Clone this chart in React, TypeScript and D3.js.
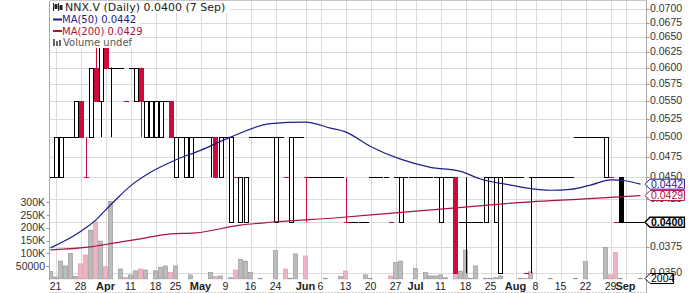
import React from "react";
import * as d3 from "d3";

// trading-day index of first entry (Mar 18); index 0 = Mar 21, index 117 = Sep 7
const FIRST_DAY = -1;

const opens = [
  0.045, 0.045, 0.045, 0.05, 0.05, 0.05, 0.055, 0.045, 0.05, 0.06,
  0.055, 0.065, 0.06, 0.06, 0.06, 0.055, 0.06, 0.055, 0.06, 0.05,
  0.05, 0.05, 0.05, 0.055, 0.055, 0.045, 0.05, 0.045, 0.045, 0.05,
  0.05, 0.05, 0.05, 0.05, 0.045, 0.05, 0.04, 0.045, 0.04, 0.04,
  0.05, 0.05, 0.05, 0.05, 0.05, 0.04, 0.05, 0.045, 0.04, 0.05,
  0.05, 0.045, 0.045, 0.045, 0.045, 0.045, 0.045, 0.045, 0.045, 0.04,
  0.04, 0.04, 0.04, 0.04, 0.045, 0.045, 0.045, 0.045, 0.04, 0.045,
  0.04, 0.045, 0.045, 0.045, 0.045, 0.045, 0.045, 0.045, 0.04, 0.045,
  0.045, 0.045, 0.04, 0.04, 0.04, 0.04, 0.04, 0.04, 0.045, 0.04,
  0.035, 0.045, 0.045, 0.045, 0.045, 0.035, 0.045, 0.045, 0.045, 0.045,
  0.045, 0.045, 0.045, 0.045, 0.045, 0.05, 0.05, 0.05, 0.05, 0.05,
  0.05, 0.045, 0.045, 0.04, 0.045, 0.04, 0.04, 0.04, 0.04,
];
const highs = [
  0.045, 0.05, 0.05, 0.05, 0.05, 0.055, 0.055, 0.05, 0.06, 0.065,
  0.065, 0.065, 0.06, 0.06, 0.06, 0.055, 0.06, 0.06, 0.06, 0.055,
  0.055, 0.055, 0.055, 0.055, 0.055, 0.05, 0.05, 0.05, 0.05, 0.05,
  0.05, 0.05, 0.05, 0.05, 0.05, 0.05, 0.05, 0.045, 0.045, 0.045,
  0.05, 0.05, 0.05, 0.05, 0.05, 0.05, 0.05, 0.045, 0.05, 0.05,
  0.05, 0.045, 0.045, 0.045, 0.045, 0.045, 0.045, 0.045, 0.045, 0.045,
  0.04, 0.04, 0.04, 0.04, 0.045, 0.045, 0.045, 0.045, 0.04, 0.045,
  0.045, 0.045, 0.045, 0.045, 0.045, 0.045, 0.045, 0.045, 0.045, 0.045,
  0.045, 0.045, 0.04, 0.045, 0.04, 0.04, 0.04, 0.045, 0.045, 0.045,
  0.045, 0.045, 0.045, 0.045, 0.045, 0.035, 0.045, 0.045, 0.045, 0.045,
  0.045, 0.045, 0.045, 0.045, 0.045, 0.05, 0.05, 0.05, 0.05, 0.05,
  0.05, 0.05, 0.045, 0.04, 0.045, 0.04, 0.04, 0.04, 0.04,
];
const lows = [
  0.045, 0.045, 0.045, 0.05, 0.05, 0.05, 0.05, 0.045, 0.05, 0.055,
  0.05, 0.06, 0.05, 0.06, 0.06, 0.055, 0.06, 0.055, 0.05, 0.05,
  0.05, 0.05, 0.05, 0.055, 0.05, 0.045, 0.05, 0.045, 0.045, 0.05,
  0.05, 0.05, 0.045, 0.045, 0.045, 0.05, 0.04, 0.045, 0.04, 0.04,
  0.05, 0.05, 0.05, 0.05, 0.05, 0.04, 0.05, 0.045, 0.04, 0.05,
  0.05, 0.04, 0.045, 0.045, 0.045, 0.045, 0.045, 0.045, 0.045, 0.04,
  0.04, 0.04, 0.04, 0.04, 0.045, 0.045, 0.045, 0.045, 0.04, 0.045,
  0.04, 0.045, 0.045, 0.045, 0.045, 0.045, 0.045, 0.045, 0.04, 0.045,
  0.045, 0.035, 0.04, 0.035, 0.04, 0.04, 0.04, 0.04, 0.045, 0.04,
  0.035, 0.045, 0.045, 0.045, 0.045, 0.035, 0.035, 0.045, 0.045, 0.045,
  0.045, 0.045, 0.045, 0.045, 0.045, 0.05, 0.05, 0.05, 0.05, 0.05,
  0.05, 0.045, 0.045, 0.04, 0.04, 0.04, 0.04, 0.04, 0.04,
];
const closes = [
  0.045, 0.05, 0.05, 0.05, 0.05, 0.055, 0.05, 0.045, 0.06, 0.055,
  0.065, 0.06, 0.06, 0.06, 0.06, 0.055, 0.06, 0.06, 0.055, 0.055,
  0.055, 0.055, 0.055, 0.055, 0.05, 0.05, 0.05, 0.05, 0.05, 0.05,
  0.05, 0.05, 0.05, 0.045, 0.05, 0.05, 0.05, 0.045, 0.045, 0.045,
  0.05, 0.05, 0.05, 0.05, 0.05, 0.05, 0.05, 0.045, 0.05, 0.05,
  0.05, 0.045, 0.045, 0.045, 0.045, 0.045, 0.045, 0.045, 0.045, 0.04,
  0.04, 0.04, 0.04, 0.04, 0.045, 0.045, 0.045, 0.045, 0.04, 0.045,
  0.045, 0.045, 0.045, 0.045, 0.045, 0.045, 0.045, 0.045, 0.045, 0.045,
  0.045, 0.035, 0.04, 0.04, 0.04, 0.04, 0.04, 0.045, 0.045, 0.045,
  0.045, 0.045, 0.045, 0.045, 0.045, 0.035, 0.045, 0.045, 0.045, 0.045,
  0.045, 0.045, 0.045, 0.045, 0.045, 0.05, 0.05, 0.05, 0.05, 0.05,
  0.05, 0.05, 0.045, 0.04, 0.04, 0.04, 0.04, 0.04, 0.04,
];
const volumes = [
  30000, 8000, 70000, 51000, 100000, 9000, 59000, 94000, 191000, 224000,
  148000, 48000, 302000, 0, 39000, 6000, 16000, 32000, 39000, 35000,
  0, 32000, 46000, 51000, 25000, 51000, 0, 0, 16000, 0,
  0, 0, 25000, 10000, 12000, 0, 5000, 35000, 77000, 70000,
  25000, 0, 3000, 0, 0, 111000, 0, 39000, 3000, 98000,
  0, 90000, 0, 0, 0, 3000, 0, 0, 9000, 31000,
  0, 0, 0, 16000, 3000, 0, 0, 0, 12000, 64000,
  70000, 0, 0, 42000, 0, 25000, 12000, 12000, 16000, 5000,
  0, 28000, 31000, 113000, 3000, 51000, 0, 3000, 3000, 5000,
  12000, 0, 0, 0, 2000, 3000, 28000, 0, 0, 0,
  3000, 0, 0, 0, 0, 2000, 0, 68000, 0, 0,
  0, 124000, 16000, 104000, 3000, 0, 0, 0, 2004,
];

const ma50Days = [-1, 4, 6, 8, 10, 12, 15, 19, 24, 29, 35, 43, 50, 55, 58, 63, 69, 75, 81, 85, 91, 95, 99, 103, 107, 111, 114, 117];
const ma50Vals = [0.0374, 0.0387, 0.0394, 0.0402, 0.0413, 0.0424, 0.044, 0.0456, 0.0471, 0.0483, 0.05, 0.0518, 0.052, 0.0512, 0.0507, 0.0488, 0.0472, 0.0462, 0.0457, 0.0448, 0.0441, 0.0437, 0.0435, 0.0436, 0.0441, 0.0447, 0.0446, 0.0442];
const ma200Days = [-1, 7, 12, 17, 23, 28, 37, 43, 57, 68, 77, 90, 95, 105, 117];
const ma200Vals = [0.0372, 0.0375, 0.0379, 0.0383, 0.0388, 0.0389, 0.0397, 0.04, 0.0405, 0.041, 0.0414, 0.042, 0.0422, 0.0425, 0.0429];

const xTickDays = [0, 5, 10, 15, 20, 24, 29, 34, 39, 44, 50, 53, 58, 63, 68, 72, 77, 82, 87, 92, 96, 101, 106, 111, 114];
const xTickLabels = ["21", "28", "Apr", "11", "18", "25", "May", "9", "16", "24", "Jun", "6", "13", "20", "27", "Jul", "11", "18", "25", "Aug", "8", "15", "22", "29", "Sep"];
const priceTicks = [0.035, 0.0375, 0.04, 0.0425, 0.045, 0.0475, 0.05, 0.0525, 0.055, 0.0575, 0.06, 0.0625, 0.065, 0.0675, 0.07];
const volTicks = [50000, 100000, 150000, 200000, 250000, 300000];

const SYMBOL = "NNX.V";
const LAST_DATE = "7 Sep";

const RED = "#cc0a3c";
const BLACK = "#000";
const NAVY = "#1c1c8a";
const MA200C = "#b0103c";
const AXIS_FONT = "'Liberation Sans', Arial, sans-serif";
const LEG_FONT = "'DejaVu Sans', Verdana, sans-serif";

const L = 49.5, R = 646.5, T = 0.5, B = 279.5;

export default function App() {
  const x = d3.scaleLinear().domain([-1, 117]).range([50.5, 640.5]);
  const y = d3.scaleLog().domain([0.035, 0.07]).range([273.2, 8.8]);
  const yv = d3.scaleLinear().domain([0, 300000]).range([279, 202.2]);
  const fmt4 = d3.format(".4f");

  const days = closes.map((c, k) => ({
    i: k + FIRST_DAY,
    o: opens[k], h: highs[k], l: lows[k], c,
    v: volumes[k],
    prev: k > 0 ? closes[k - 1] : c,
  }));

  const line = d3.line<[number, number]>().x((d) => x(d[0])).y((d) => y(d[1])).curve(d3.curveMonotoneX);
  const ma50Path = line(ma50Days.map((d, k) => [d, ma50Vals[k]])) || "";
  const ma200Path = line(ma200Days.map((d, k) => [d, ma200Vals[k]])) || "";

  const lastClose = closes[closes.length - 1];
  const lastMa50 = ma50Vals[ma50Vals.length - 1];
  const lastMa200 = ma200Vals[ma200Vals.length - 1];
  const lastVol = volumes[volumes.length - 1];

  const markers = [
    { yy: y(lastMa50), text: fmt4(lastMa50), color: NAVY, bold: false },
    { yy: y(lastMa200), text: fmt4(lastMa200), color: MA200C, bold: false },
    { yy: y(lastClose), text: fmt4(lastClose), color: BLACK, bold: true },
    { yy: yv(lastVol), text: String(lastVol), color: BLACK, bold: false },
  ];

  return (
    <svg width={700} height={293} viewBox="0 0 700 293" style={{ display: "block", position: "absolute", left: 0, top: 0, background: "#fff" }}>
      <defs>
        <clipPath id="plotclip">
          <rect x={L} y={T} width={R - L} height={B - T} />
        </clipPath>
      </defs>
      <rect x={0} y={0} width={700} height={293} fill="#fff" />
      {/* grid */}
      <g stroke="#dadada" strokeWidth={1} shapeRendering="crispEdges">
        {priceTicks.map((p) => (
          <line key={"h" + p} x1={L} x2={R} y1={Math.round(y(p)) + 0.5} y2={Math.round(y(p)) + 0.5} />
        ))}
        {xTickDays.map((d) => (
          <line key={"v" + d} x1={Math.round(x(d)) + 0.5} x2={Math.round(x(d)) + 0.5} y1={T} y2={B} />
        ))}
      </g>
      <g clipPath="url(#plotclip)">
        {/* volume */}
        {days.map((d) =>
          d.v > 0 ? (
            <rect
              key={"vol" + d.i}
              x={x(d.i) - 2}
              y={yv(d.v)}
              width={4}
              height={Math.max(0.5, yv(0) - yv(d.v))}
              fill={d.c < d.prev ? "#eeb4c2" : "#bcbcbc"}
              stroke={d.c < d.prev ? "#d88ea2" : "#8e8e8e"}
              strokeWidth={0.6}
            />
          ) : null
        )}
        {/* candles */}
        {days.map((d) => {
          const col = d.c < d.prev ? RED : BLACK;
          const cx = Math.round(x(d.i)) + 0.5;
          const top = Math.max(d.o, d.c), bot = Math.min(d.o, d.c);
          const parts: React.ReactNode[] = [];
          if (d.h > top || d.l < bot) {
            parts.push(<line key="w" x1={cx} x2={cx} y1={y(d.h)} y2={y(d.l)} stroke={col} strokeWidth={1} />);
          }
          if (d.o === d.c) {
            parts.push(<line key="b" x1={cx - 2.5} x2={cx + 2.5} y1={Math.round(y(d.c)) + 0.5} y2={Math.round(y(d.c)) + 0.5} stroke={col} strokeWidth={1} shapeRendering="crispEdges" />);
          } else {
            parts.push(
              <rect key="b" x={cx - 2} y={Math.round(y(top)) + 0.5} width={4} height={Math.round(y(bot)) - Math.round(y(top))}
                fill={d.c < d.o ? col : "#fff"} stroke={col} strokeWidth={1} shapeRendering="crispEdges" />
            );
          }
          return <g key={"c" + d.i}>{parts}</g>;
        })}
        {/* moving averages */}
        <path d={ma200Path} fill="none" stroke={MA200C} strokeWidth={1.2} />
        <path d={ma50Path} fill="none" stroke={NAVY} strokeWidth={1.2} />
      </g>
      {/* frame */}
      <line x1={L} x2={L} y1={T} y2={B} stroke="#a8a8a8" shapeRendering="crispEdges" />
      <line x1={R} x2={R} y1={0} y2={293} stroke="#a8a8a8" shapeRendering="crispEdges" />
      <line x1={L} x2={R} y1={T} y2={T} stroke="#c8c8c8" shapeRendering="crispEdges" />
      <line x1={L} x2={R} y1={292.5} y2={292.5} stroke="#999" strokeDasharray="1,2" />
      {/* right axis */}
      <g fontFamily={AXIS_FONT} fontSize={10.5} fill="#333">
        {priceTicks.map((p) => (
          <g key={"pt" + p}>
            <line x1={R} x2={R + 3} y1={Math.round(y(p)) + 0.5} y2={Math.round(y(p)) + 0.5} stroke="#999" />
            <text x={650} y={y(p) + 3}>{fmt4(p)}</text>
          </g>
        ))}
      </g>
      {/* left volume axis */}
      <g fontFamily={AXIS_FONT} fontSize={10.5} fill="#333">
        {volTicks.map((v) => (
          <g key={"vt" + v}>
            <line x1={L - 3} x2={L} y1={Math.round(yv(v)) + 0.5} y2={Math.round(yv(v)) + 0.5} stroke="#999" />
            <text x={45} y={yv(v) + 3.5} textAnchor="end">{v >= 100000 ? v / 1000 + "K" : String(v)}</text>
          </g>
        ))}
      </g>
      {/* x axis labels */}
      <g fontFamily={AXIS_FONT} fontSize={10.5} fill="#222">
        {xTickDays.map((d, k) => {
          const lab = xTickLabels[k];
          const bold = isNaN(Number(lab));
          return (
            <text key={"xl" + k} x={x(d)} y={290} textAnchor="middle" fontWeight={bold ? "bold" : "normal"} fontSize={bold ? 11 : 10.5}>
              {lab}
            </text>
          );
        })}
      </g>
      {/* last-value markers */}
      {markers.map((m, k) => {
        const w = m.text.length * 5.4 + 2;
        const yy = m.yy;
        return (
          <g key={"mk" + k}>
            <path d={`M645,${yy} L650,${yy - 5} L${650 + w},${yy - 5} L${650 + w},${yy + 5} L650,${yy + 5} Z`}
              fill="#fff" stroke={m.color} strokeWidth={m.bold ? 1.4 : 1} />
            <text x={651} y={yy + 3.8} fontFamily={AXIS_FONT} fontSize={10.5} fill={m.color} fontWeight={m.bold ? "bold" : "normal"}>{m.text}</text>
          </g>
        );
      })}
      {/* legend */}
      <g>
        <rect x={50} y={1} width={180} height={12} fill="#fff" />
        <rect x={50} y={13} width={90} height={35} fill="#fff" />
        <g stroke="#222" strokeWidth={1}>
          <line x1={53.5} x2={53.5} y1={3} y2={11} />
          <rect x={55} y={4.5} width={2} height={4} fill="#222" />
          <line x1={58.5} x2={58.5} y1={3} y2={11} />
          <rect x={60} y={5.5} width={2} height={4} fill="#222" />
        </g>
        <text x={65} y={11} fontFamily={LEG_FONT} fontSize={11} fill="#222">
          {`${SYMBOL} (Daily) ${fmt4(lastClose)} (${LAST_DATE})`}
        </text>
        <line x1={53} x2={62} y1={19.5} y2={19.5} stroke={NAVY} strokeWidth={2} />
        <text x={62} y={23} fontFamily={LEG_FONT} fontSize={10} fill={NAVY}>{`MA(50) ${fmt4(lastMa50)}`}</text>
        <line x1={53} x2={62} y1={31} y2={31} stroke={MA200C} strokeWidth={2} />
        <text x={62} y={34.5} fontFamily={LEG_FONT} fontSize={10} fill={MA200C}>{`MA(200) ${fmt4(lastMa200)}`}</text>
        <g fill="#666">
          <rect x={53} y={39} width={2} height={7} />
          <rect x={56} y={41} width={2} height={5} />
          <rect x={59} y={40} width={2} height={6} />
        </g>
        <text x={63} y={45.5} fontFamily={LEG_FONT} fontSize={10} fill="#555">Volume undef</text>
      </g>
    </svg>
  );
}
